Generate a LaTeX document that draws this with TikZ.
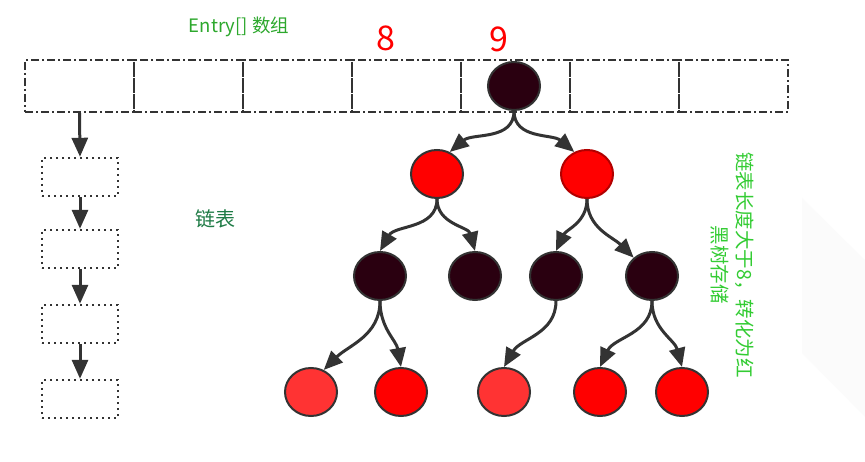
\documentclass[tikz,border=0pt]{standalone}
\usepackage{fontspec}
\newfontfamily\cjk{Noto Sans CJK SC}
\usetikzlibrary{arrows.meta,shapes.geometric}
\definecolor{edgegray}{HTML}{333333}
\definecolor{blk}{HTML}{2A0010}
\definecolor{redA}{HTML}{FF0000}
\definecolor{redB}{HTML}{FF3333}
\definecolor{grnA}{HTML}{2DA82D}
\definecolor{grnB}{HTML}{1E7B45}
\definecolor{grnC}{HTML}{33CC33}
\definecolor{wmark}{HTML}{FBFBFB}
\tikzset{
  cell/.style={draw=edgegray, line width=2.2pt, dash pattern=on 8pt off 3pt on 2pt off 3pt, minimum width=109pt, minimum height=52pt, inner sep=0pt},
  lbox/.style={draw=edgegray, line width=2.4pt, dash pattern=on 2.4pt off 3.6pt, minimum width=76pt, minimum height=38pt, inner sep=0pt},
  rbnode/.style={ellipse, draw=edgegray, line width=2pt, minimum width=52pt, minimum height=48pt, inner sep=0pt},
  blacknode/.style={rbnode, fill=blk},
  rednode/.style={rbnode, fill=redA},
  lrednode/.style={rbnode, fill=redB},
  edge/.style={draw=edgegray, line width=3pt, -{Triangle[length=19pt,width=16pt]}},
  lab/.style={font=\cjk, inner sep=0pt}
}
\begin{document}
\begin{tikzpicture}[x=1pt,y=-1pt]
\useasboundingbox (0,0) rectangle (865,462);
\fill[white] (0,0) rectangle (865,462);
% faint watermark shape
\fill[wmark] (802,198) -- (865,260) -- (865,417) -- (802,353) -- cycle;

% array cells
\foreach \i in {1,...,7} {
  \node[cell] (a\i) at ({25+109*(\i-1)+54.5},86) {};
}

% labels
\node[lab, text=grnA, font=\cjk\fontsize{18.5}{20}\selectfont] (entry) at (239,27) {Entry[] 数组};
\node[lab, text=red, font=\cjk\fontsize{34}{36}\selectfont] (n8) at (386,38) {8};
\node[lab, text=red, font=\cjk\fontsize{34}{36}\selectfont] (n9) at (499,39) {9};
\node[lab, text=grnB, font=\cjk\fontsize{20}{22}\selectfont] (llabel) at (215,219) {链表};
\node[lab, text=grnC, font=\cjk\fontsize{19.5}{25}\selectfont, rotate=-90, align=center] (vtext) at (732,265) {链表长度大于8，转化为红\\黑树存储};

% linked list
\node[lbox] (l1) at (80,177) {};
\node[lbox] (l2) at (80,249) {};
\node[lbox] (l3) at (80,324) {};
\node[lbox] (l4) at (80,399) {};
\draw[edge] (a1.south) -- (l1.north);
\draw[edge] (l1.south) -- (l2.north);
\draw[edge] (l2.south) -- (l3.north);
\draw[edge] (l3.south) -- (l4.north);

% red-black tree
\node[blacknode] (root) at (514,86) {};
\node[rednode] (r1) at (437,174) {};
\node[rednode, draw=red!70!black] (r2) at (587,174) {};
\node[blacknode] (b1) at (380,276) {};
\node[blacknode] (b2) at (475,276) {};
\node[blacknode] (b3) at (556,276) {};
\node[blacknode] (b4) at (652,276) {};
\node[lrednode] (c1) at (311,392) {};
\node[rednode] (c2) at (401,392) {};
\node[lrednode] (c3) at (504,392) {};
\node[rednode] (c4) at (600,392) {};
\node[rednode] (c5) at (682,392) {};

\draw[edge] (root.south) to[out=-90,in=40] (r1.60);
\draw[edge] (root.south) to[out=-90,in=140] (r2.120);
\draw[edge] (r1.south) to[out=-90,in=60] (b1.north);
\draw[edge] (r1.south) to[out=-90,in=105] (b2.north);
\draw[edge] (r2.south) to[out=-90,in=65] (b3.north);
\draw[edge] (r2.south) to[out=-90,in=135] (b4.135);
\draw[edge] (b1.south) to[out=-90,in=45] (c1.60);
\draw[edge] (b1.south) to[out=-90,in=100] (c2.north);
\draw[edge] (b3.south) to[out=-90,in=60] (c3.north);
\draw[edge] (b4.south) to[out=-90,in=65] (c4.north);
\draw[edge] (b4.south) to[out=-90,in=105] (c5.north);
\end{tikzpicture}
\end{document}
